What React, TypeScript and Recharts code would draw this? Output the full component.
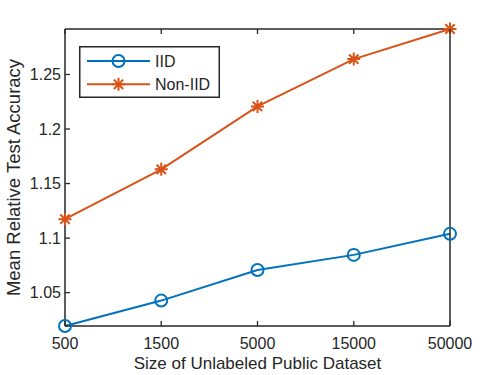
import React from 'react';
import { LineChart, Line, XAxis, YAxis, Legend } from 'recharts';

const categories = ['500', '1500', '5000', '15000', '50000'];
const iidValues = [1.0194, 1.0427, 1.0708, 1.0846, 1.1039];
const nonIidValues = [1.1173, 1.163, 1.2207, 1.2641, 1.2917];
const yTicks = [1.05, 1.1, 1.15, 1.2, 1.25];
const yDomain = [1.0194, 1.2917];

const SERIES = [
  { key: 'iid', name: 'IID', color: '#0072BD', marker: 'circle' },
  { key: 'noniid', name: 'Non-IID', color: '#D95319', marker: 'star' },
];

const data = categories.map((c, i) => ({ size: c, iid: iidValues[i], noniid: nonIidValues[i] }));

const AXIS = '#262626';
const FONT = '"Liberation Sans", Arial, Helvetica, sans-serif';
const TICK_LEN = 5;
const X_MARGIN = 12;
const Y_MARGIN = 4;

const fmt = (v: number) => String(Number(v.toFixed(2)));

const Marker = ({ cx, cy, type, color }: any) => {
  if (cx == null || cy == null) return null;
  if (type === 'circle') {
    return <circle cx={cx} cy={cy} r={6} fill="none" stroke={color} strokeWidth={2} />;
  }
  const r = 6.5;
  const d = r * 0.72;
  return (
    <path
      d={`M${cx - r},${cy}L${cx + r},${cy}M${cx},${cy - r}L${cx},${cy + r}M${cx - d},${cy - d}L${cx + d},${cy + d}M${cx - d},${cy + d}L${cx + d},${cy - d}`}
      stroke={color}
      strokeWidth={2}
      fill="none"
    />
  );
};

const BottomTick = (props: any) => {
  const { x, y, payload } = props;
  const ay = y - X_MARGIN;
  return (
    <g>
      <line x1={x} x2={x} y1={ay} y2={ay - TICK_LEN} stroke={AXIS} strokeWidth={1.3} />
      <text x={x} y={y} dy="0.71em" textAnchor="middle" fontSize={16} fontFamily={FONT} fill={AXIS}>
        {payload.value}
      </text>
    </g>
  );
};

const TopTick = (props: any) => {
  const { x, y } = props;
  return <line x1={x} x2={x} y1={y} y2={y + TICK_LEN} stroke={AXIS} strokeWidth={1.3} />;
};

const LeftTick = (props: any) => {
  const { x, y, payload } = props;
  const ax = x + Y_MARGIN;
  return (
    <g>
      <line x1={ax} x2={ax + TICK_LEN} y1={y} y2={y} stroke={AXIS} strokeWidth={1.3} />
      <text x={x} y={y} dy="0.355em" textAnchor="end" fontSize={16} fontFamily={FONT} fill={AXIS}>
        {fmt(payload.value)}
      </text>
    </g>
  );
};

const RightTick = (props: any) => {
  const { x, y } = props;
  return <line x1={x} x2={x - TICK_LEN} y1={y} y2={y} stroke={AXIS} strokeWidth={1.3} />;
};

const LegendBox = (props: any) => {
  const payload = props.payload || [];
  const rows = [15, 38.3];
  return (
    <svg width={141} height={52} style={{ display: 'block' }}>
      <rect x={0.75} y={0.75} width={139.5} height={50.5} fill="#ffffff" stroke={AXIS} strokeWidth={1.5} />
      {payload.map((p: any, i: number) => {
        const s = SERIES.find((q) => q.name === p.value) || SERIES[i];
        const y = rows[i] ?? 15 + i * 23;
        return (
          <g key={s.key}>
            <line x1={8} x2={71} y1={y} y2={y} stroke={s.color} strokeWidth={2} />
            <Marker cx={39.5} cy={y} type={s.marker} color={s.color} />
            <text x={76} y={y} dy="0.355em" fontSize={16} fontFamily={FONT} fill={AXIS}>
              {s.name}
            </text>
          </g>
        );
      })}
    </svg>
  );
};

export default function App() {
  return (
    <div style={{ position: 'absolute', left: 0, top: 0, background: '#fff' }}>
      <LineChart width={498} height={375} data={data} margin={{ top: 28, right: 47, bottom: 0, left: 0 }}>
        <XAxis
          xAxisId="bottom"
          dataKey="size"
          interval={0}
          tickSize={0}
          tickMargin={X_MARGIN}
          height={49}
          axisLine={{ stroke: AXIS, strokeWidth: 1.5 }}
          tickLine={false}
          tick={<BottomTick />}
          label={{
            value: 'Size of Unlabeled Public Dataset',
            position: 'insideBottom',
            offset: 6,
            fontSize: 17,
            fontFamily: FONT,
            fill: AXIS,
          }}
        />
        <XAxis
          xAxisId="top"
          orientation="top"
          dataKey="size"
          interval={0}
          tickSize={0}
          tickMargin={0}
          height={1}
          axisLine={{ stroke: AXIS, strokeWidth: 1.5 }}
          tickLine={false}
          tick={<TopTick />}
        />
        <YAxis
          yAxisId="left"
          type="number"
          domain={yDomain}
          ticks={yTicks}
          interval={0}
          width={65}
          tickSize={0}
          tickMargin={Y_MARGIN}
          axisLine={{ stroke: AXIS, strokeWidth: 1.5 }}
          tickLine={false}
          tick={<LeftTick />}
          label={{
            value: 'Mean Relative Test Accuracy',
            angle: -90,
            position: 'insideLeft',
            offset: 13,
            fontSize: 18.5,
            fontFamily: FONT,
            fill: AXIS,
            style: { textAnchor: 'middle' },
          }}
        />
        <YAxis
          yAxisId="right"
          orientation="right"
          type="number"
          domain={yDomain}
          ticks={yTicks}
          interval={0}
          width={1}
          tickSize={0}
          tickMargin={0}
          axisLine={{ stroke: AXIS, strokeWidth: 1.5 }}
          tickLine={false}
          tick={<RightTick />}
        />
        <Legend
          layout="vertical"
          align="center"
          verticalAlign="middle"
          content={<LegendBox />}
          wrapperStyle={{ top: 46, left: 79, width: 141, height: 52 }}
        />
        {SERIES.map((s) => (
          <Line
            key={s.key}
            xAxisId="bottom"
            yAxisId="left"
            type="linear"
            dataKey={s.key}
            name={s.name}
            stroke={s.color}
            strokeWidth={2}
            dot={(p: any) => <Marker key={`${s.key}-${p.index}`} cx={p.cx} cy={p.cy} type={s.marker} color={s.color} />}
            activeDot={false}
            isAnimationActive={false}
          />
        ))}
      </LineChart>
    </div>
  );
}
